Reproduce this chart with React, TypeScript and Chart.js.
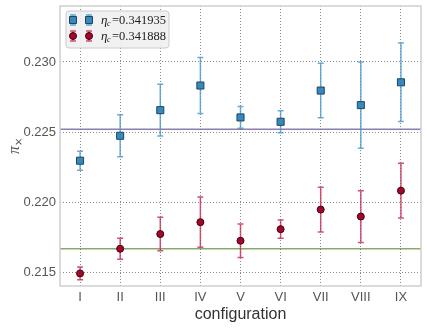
import React, { useEffect, useRef } from "react";
import { Chart, registerables } from "chart.js";
Chart.register(...registerables);

const categories = ["I", "II", "III", "IV", "V", "VI", "VII", "VIII", "IX"];
const blueValues = [0.22295, 0.22473, 0.22656, 0.22832, 0.22604, 0.22573, 0.22796, 0.22692, 0.22855];
const blueErrors = [0.00068, 0.0015, 0.00185, 0.002, 0.00078, 0.00078, 0.00195, 0.00308, 0.0028];
const redValues = [0.2149, 0.21666, 0.21771, 0.21856, 0.21723, 0.21806, 0.21946, 0.21896, 0.22081];
const redErrors = [0.00045, 0.00075, 0.0012, 0.0018, 0.0012, 0.00065, 0.0016, 0.00185, 0.00195];
const refLines = [0.22519, 0.21666];
const refColors = ["rgba(122,104,166,0.85)", "rgba(70,120,33,0.65)"];
const yTicks = [0.215, 0.22, 0.225, 0.23];
const legendLabels = ["=0.341935", "=0.341888"];

const BLUE = "#348ABD";
const RED = "#A60628";
const BLUE_ERR = "rgba(70,150,205,0.8)";
const RED_ERR = "rgba(195,40,80,0.8)";

const errorBarPlugin = {
  id: "errorBars",
  beforeDatasetsDraw(chart: any) {
    const ctx = chart.ctx;
    const ys = chart.scales.y;
    const area = chart.chartArea;
    ctx.save();
    refLines.forEach((v, i) => {
      const py = ys.getPixelForValue(v);
      ctx.strokeStyle = refColors[i];
      ctx.lineWidth = 1.5;
      ctx.beginPath();
      ctx.moveTo(area.left, py);
      ctx.lineTo(area.right, py);
      ctx.stroke();
    });
    chart.data.datasets.forEach((ds: any, di: number) => {
      const meta = chart.getDatasetMeta(di);
      ctx.strokeStyle = ds.errorColor;
      ctx.lineWidth = 1.5;
      meta.data.forEach((pt: any, i: number) => {
        const v = ds.data[i];
        const e = ds.errors[i];
        const yt = ys.getPixelForValue(v + e);
        const yb = ys.getPixelForValue(v - e);
        ctx.beginPath();
        ctx.moveTo(pt.x, yt);
        ctx.lineTo(pt.x, yb);
        ctx.moveTo(pt.x - 3, yt);
        ctx.lineTo(pt.x + 3, yt);
        ctx.moveTo(pt.x - 3, yb);
        ctx.lineTo(pt.x + 3, yb);
        ctx.stroke();
      });
    });
    ctx.strokeStyle = "#cfcfcf";
    ctx.lineWidth = 1.5;
    ctx.strokeRect(area.left, area.top, area.right - area.left, area.bottom - area.top);
    ctx.restore();
  },
  afterDraw(chart: any) {
    const ctx = chart.ctx;
    ctx.save();
    ctx.translate(15, 148);
    ctx.rotate(-Math.PI / 2);
    ctx.fillStyle = "#555";
    ctx.textBaseline = "alphabetic";
    ctx.font = "italic 16px 'Liberation Serif'";
    ctx.fillText("π", -6, 4);
    ctx.font = "10px 'DejaVu Sans'";
    ctx.fillText("×", 2, 7);
    ctx.restore();

    ctx.save();
    const bx = 66, by = 11, bw = 103, bh = 37, r = 3;
    ctx.beginPath();
    ctx.moveTo(bx + r, by);
    ctx.lineTo(bx + bw - r, by);
    ctx.arcTo(bx + bw, by, bx + bw, by + r, r);
    ctx.lineTo(bx + bw, by + bh - r);
    ctx.arcTo(bx + bw, by + bh, bx + bw - r, by + bh, r);
    ctx.lineTo(bx + r, by + bh);
    ctx.arcTo(bx, by + bh, bx, by + bh - r, r);
    ctx.lineTo(bx, by + r);
    ctx.arcTo(bx, by, bx + r, by, r);
    ctx.closePath();
    ctx.fillStyle = "rgba(240,240,240,0.9)";
    ctx.fill();
    ctx.strokeStyle = "#cccccc";
    ctx.lineWidth = 1;
    ctx.stroke();
    const rows = [
      { color: BLUE, err: BLUE_ERR, edge: "#22445e", shape: "rect" },
      { color: RED, err: RED_ERR, edge: "#3d0010", shape: "circle" },
    ];
    rows.forEach((row, i) => {
      const cy = 20 + 16 * i;
      [73, 89].forEach((mx) => {
        ctx.strokeStyle = row.err;
        ctx.lineWidth = 1.5;
        ctx.beginPath();
        ctx.moveTo(mx, cy - 5);
        ctx.lineTo(mx, cy + 5);
        ctx.moveTo(mx - 3, cy - 5);
        ctx.lineTo(mx + 3, cy - 5);
        ctx.moveTo(mx - 3, cy + 5);
        ctx.lineTo(mx + 3, cy + 5);
        ctx.stroke();
        ctx.fillStyle = row.color;
        ctx.strokeStyle = row.edge;
        ctx.lineWidth = 1;
        ctx.beginPath();
        if (row.shape === "rect") ctx.rect(mx - 3.5, cy - 3.5, 7, 7);
        else ctx.arc(mx, cy, 3.5, 0, Math.PI * 2);
        ctx.fill();
        ctx.stroke();
      });
      ctx.fillStyle = "#222";
      ctx.textBaseline = "alphabetic";
      ctx.font = "italic 13px 'Liberation Serif'";
      ctx.fillText("η", 101, cy + 4);
      ctx.font = "italic 8px 'Liberation Serif'";
      ctx.fillText("c", 107, cy + 6);
      ctx.font = "12.5px 'Liberation Serif'";
      ctx.fillText(legendLabels[i], 112, cy + 4);
    });
    ctx.restore();
  },
};

export default function App() {
  const ref = useRef<HTMLCanvasElement | null>(null);
  useEffect(() => {
    if (!ref.current) return;
    const chart = new Chart(ref.current, {
      type: "line",
      data: {
        labels: categories,
        datasets: [
          {
            label: "blue",
            data: blueValues,
            errors: blueErrors,
            errorColor: BLUE_ERR,
            showLine: false,
            pointStyle: "rect",
            pointRadius: 5,
            backgroundColor: BLUE,
            borderColor: "#22445e",
            borderWidth: 1,
          } as any,
          {
            label: "red",
            data: redValues,
            errors: redErrors,
            errorColor: RED_ERR,
            showLine: false,
            pointStyle: "circle",
            pointRadius: 3.5,
            backgroundColor: RED,
            borderColor: "#3d0010",
            borderWidth: 1,
          } as any,
        ],
      },
      options: {
        animation: false,
        responsive: false,
        layout: { padding: { left: 0, right: 6, top: 6, bottom: 0 } },
        plugins: { legend: { display: false }, tooltip: { enabled: false } },
        scales: {
          x: {
            type: "category",
            offset: true,
            grid: { offset: false, color: "#8a8a8a", lineWidth: 1, drawTicks: false },
            border: { display: false, dash: [1, 2] },
            ticks: {
              color: "#555",
              font: { family: "'Liberation Sans'", size: 13 },
              padding: 4,
              maxRotation: 0,
            },
            title: {
              display: true,
              text: "configuration",
              color: "#333",
              font: { family: "'Liberation Sans'", size: 16 },
              padding: { top: 0, bottom: 4 },
            },
            afterFit: (s: any) => {
              s.height = 42;
              s.paddingLeft = 0;
              s.paddingRight = 0;
            },
          },
          y: {
            min: 0.214,
            max: 0.234,
            grid: { color: "#8a8a8a", lineWidth: 1, drawTicks: false },
            border: { display: false, dash: [1, 2] },
            ticks: {
              color: "#555",
              font: { family: "'Liberation Sans'", size: 13 },
              padding: 4,
              callback: (v: any) => Number(v).toFixed(3),
            },
            afterBuildTicks: (s: any) => {
              s.ticks = yTicks.map((v) => ({ value: v }));
            },
            afterFit: (s: any) => {
              s.width = 60;
              s.paddingTop = 0;
              s.paddingBottom = 0;
            },
          },
        },
      } as any,
      plugins: [errorBarPlugin],
    });
    return () => chart.destroy();
  }, []);
  return (
    <div style={{ position: "absolute", left: 0, top: 0, width: 427, height: 328, background: "#fff" }}>
      <canvas ref={ref} width={427} height={328} style={{ display: "block" }} />
    </div>
  );
}
